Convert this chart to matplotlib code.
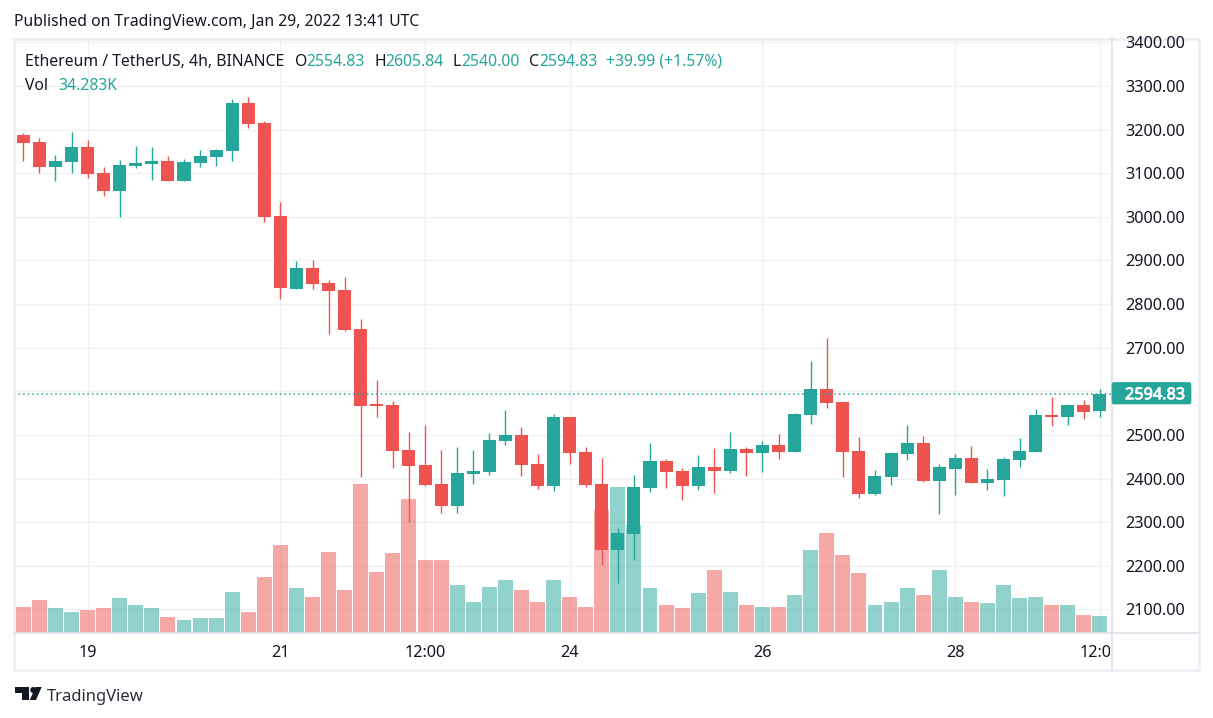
import matplotlib
matplotlib.use('Agg')
import matplotlib.pyplot as plt
import matplotlib.patheffects as pe
from matplotlib.patches import Rectangle, FancyBboxPatch, Polygon, Circle
from matplotlib.transforms import Bbox
import numpy as np

opens = [3188, 3172, 3115, 3127, 3160, 3101, 3060, 3117, 3122, 3128, 3083, 3124, 3138, 3152, 3261, 3215, 3002,
         2835, 2883, 2848, 2832, 2743, 2569, 2569, 2465, 2431, 2387, 2337, 2410, 2415, 2486, 2500, 2433, 2383,
         2541, 2461, 2387, 2236, 2273, 2378, 2440, 2417, 2383, 2426, 2417, 2468, 2459, 2477, 2461, 2546, 2605,
         2575, 2463, 2365, 2403, 2456, 2481, 2394, 2422, 2447, 2390, 2397, 2442, 2461, 2546, 2541, 2569, 2554.83]
highs = [3192, 3181, 3142, 3195, 3176, 3115, 3130, 3163, 3160, 3140, 3133, 3154, 3156, 3270, 3275, 3220, 3034,
         2899, 2901, 2855, 2862, 2766, 2626, 2578, 2507, 2523, 2465, 2472, 2465, 2504, 2557, 2518, 2456, 2548,
         2541, 2472, 2447, 2286, 2408, 2481, 2445, 2424, 2454, 2470, 2507, 2472, 2486, 2502, 2550, 2669, 2722,
         2575, 2495, 2419, 2461, 2523, 2497, 2433, 2456, 2475, 2422, 2449, 2493, 2559, 2587, 2571, 2580, 2605.84]
lows = [3129, 3101, 3083, 3101, 3090, 3049, 3000, 3113, 3085, 3083, 3083, 3115, 3117, 3129, 3205, 2989, 2812,
        2835, 2835, 2731, 2739, 2404, 2542, 2424, 2301, 2383, 2321, 2321, 2387, 2408, 2477, 2406, 2376, 2371,
        2433, 2380, 2202, 2160, 2213, 2369, 2378, 2351, 2374, 2367, 2413, 2406, 2415, 2445, 2461, 2525, 2562,
        2403, 2356, 2362, 2385, 2442, 2392, 2319, 2362, 2390, 2374, 2360, 2426, 2461, 2520, 2523, 2536, 2540.00]
closes = [3170, 3115, 3128, 3160, 3099, 3060, 3119, 3124, 3128, 3083, 3126, 3140, 3154, 3261, 3214, 3000, 2837,
          2883, 2847, 2831, 2741, 2567, 2567, 2464, 2429, 2385, 2337, 2413, 2417, 2488, 2500, 2431, 2383, 2541,
          2458, 2385, 2236, 2275, 2380, 2440, 2415, 2383, 2426, 2417, 2468, 2458, 2477, 2461, 2548, 2605, 2574,
          2461, 2365, 2406, 2458, 2481, 2394, 2426, 2447, 2390, 2399, 2445, 2463, 2546, 2541, 2569, 2552, 2594.83]
# thousands, last one from the legend
volumes = [53.5, 70.6, 51.4, 42.8, 49.2, 51.4, 72.8, 57.8, 51.4, 34.2, 27.8, 30, 30, 85.6, 44.9, 119.8, 186.2,
           94.2, 74.9, 173.3, 92, 316.7, 128.4, 169.1, 284.6, 154.1, 156.2, 100.6, 66.3, 98.4, 111.3, 89.9, 64.2,
           111.3, 77, 55.6, 263.2, 310.3, 229, 94.2, 59.9, 51.4, 83.5, 134.8, 87.7, 57.8, 53.5, 53.5, 81.3, 175.5,
           211.9, 166.9, 126.3, 59.9, 66.3, 94.2, 81.3, 132.7, 77, 64.2, 62.1, 102.7, 72.8, 77, 57.8, 59.9, 38.5,
           34.283]
prev_volume = 32
price_ticks = [2100, 2200, 2300, 2400, 2500, 2600, 2700, 2800, 2900, 3000, 3100, 3200, 3300, 3400]
time_ticks = [4, 16, 25, 34, 46, 58, 67]
time_labels = ['19', '21', '12:00', '24', '26', '28', '12:00']
last_price = 2594.83

W, H = 1213, 718
UP = '#26a69a'
DOWN = '#ef5350'
TEXT = '#131722'
GRID = '#f0f1f6'
EDGE = '#e0e3eb'
FONT = 'Noto Sans'
YMIN, YMAX = 2046.8, 3408
plt.rcParams['font.family'] = FONT


def fx(px):
    return px / W


def fy(py):
    return 1 - py / H


def label(px, py, s, color=TEXT, size=11.3, **kw):
    return fig.text(fx(px), fy(py + 2), s, color=color, size=size, va='center', **kw)


def bare(a):
    a.set_yticks([])
    a.set_xticks([])
    a.patch.set_visible(False)
    for s in a.spines.values():
        s.set_visible(False)


fig = plt.figure(figsize=(W / 100, H / 100), dpi=100, facecolor='white')
ax = fig.add_axes([fx(14), fy(632.5), fx(1112 - 14), (632.5 - 39) / H])
ax.set_xlim(-0.579, 67.75)
ax.set_ylim(YMIN, YMAX)
ax.hlines(price_ticks, -1, 68, color=GRID, lw=1, zorder=1)
ax.vlines(time_ticks, 2000, 3500, color=GRID, lw=1, zorder=1)

# grid underneath, then volume, then candles
vol = ax.twinx()
vol.set_ylim(0, 1270)
candles = ax.twinx()
candles.set_ylim(YMIN, YMAX)
bare(ax)
bare(vol)
bare(candles)
ax.set_zorder(0)
vol.set_zorder(1)
candles.set_zorder(2)

idx = np.arange(len(opens))
colors = [UP if c >= o else DOWN for o, c in zip(opens, closes)]
vol.bar(idx, volumes, width=0.93, color=colors, alpha=0.5, lw=0)
vol.bar(-1, prev_volume, width=0.93, color=UP, alpha=0.5, lw=0)

candles.vlines(idx, lows, highs, color=colors, lw=1.0, zorder=3)
bottoms = np.minimum(opens, closes)
heights = np.maximum(np.abs(np.array(closes) - np.array(opens)), 3)
candles.bar(idx, heights, bottom=bottoms, width=0.81, color=colors, lw=0, zorder=4)
candles.axhline(last_price, color=UP, lw=1.1, ls=(0, (1, 2)), zorder=5)

# frame and pane separators
frame = fig.add_axes([0, 0, 1, 1])
frame.set_xlim(0, W)
frame.set_ylim(H, 0)
frame.axis('off')
frame.patch.set_visible(False)
frame.set_zorder(3)
frame.add_patch(Rectangle((14, 38.5), 1199 - 14, 669.5 - 38.5, fill=False, ec='#eeeff5', lw=2))
frame.plot([1111.5, 1111.5], [38, 669], color=EDGE, lw=1.3)
frame.plot([14, 1199], [632.5, 632.5], color=EDGE, lw=1.3)
frame.add_patch(FancyBboxPatch((1112, 382.5), 79, 21.5, boxstyle='round,pad=0,rounding_size=2',
                               fc=UP, ec=UP, lw=0.5, zorder=5))

# logo
frame.add_patch(Polygon([(14.5, 687), (29, 687), (29, 700), (21.5, 700), (21.5, 693), (14.5, 693)],
                        fc=TEXT, ec='none'))
frame.add_patch(Circle((33.2, 690), 3, fc=TEXT, ec='none'))
frame.add_patch(Polygon([(35.5, 687), (41.7, 687), (36, 700), (29.8, 700)], fc=TEXT, ec='none'))

# price scale, the last price tag sits where 2600 would be
for p in price_ticks:
    if p == 2600:
        continue
    y = 632.5 - (p - YMIN) / (YMAX - YMIN) * (632.5 - 39)
    label(1125, y, '%.2f' % p, size=11.7)
tag = label(1125, 393.2, '%.2f' % last_price, color='white', size=11.7, weight='bold')
tag.set_path_effects([pe.withStroke(linewidth=0.6, foreground='white')])

# time scale, the last label is cut by the price scale
for i, s in zip(time_ticks, time_labels):
    x = 23.3 + 16.07 * i
    t = label(x, 651, s, ha='center', size=11.7)
    t.set_clip_box(Bbox([[0, 0], [1110, H]]))
    t.set_clip_on(True)

# header and legend
label(14, 20, 'Published on TradingView.com, Jan 29, 2022 13:41 UTC')
label(25, 59.5, 'Ethereum / TetherUS, 4h, BINANCE')
label(295, 59.5, 'O')
label(306.5, 59.5, '2554.83', color=UP)
label(374, 59.5, 'H')
label(385, 59.5, '2605.84', color=UP)
label(452.5, 59.5, 'L')
label(461.5, 59.5, '2540.00', color=UP)
label(529, 59.5, 'C')
label(539, 59.5, '2594.83', color=UP)
label(606.5, 59.5, '+39.99 (+1.57%)', color=UP)
label(25, 83.5, 'Vol')
label(58, 83.5, '34.283K', color=UP)
label(47, 695, 'TradingView', size=12, color='#2a2e39')

fig.savefig('out.png', dpi=100)
